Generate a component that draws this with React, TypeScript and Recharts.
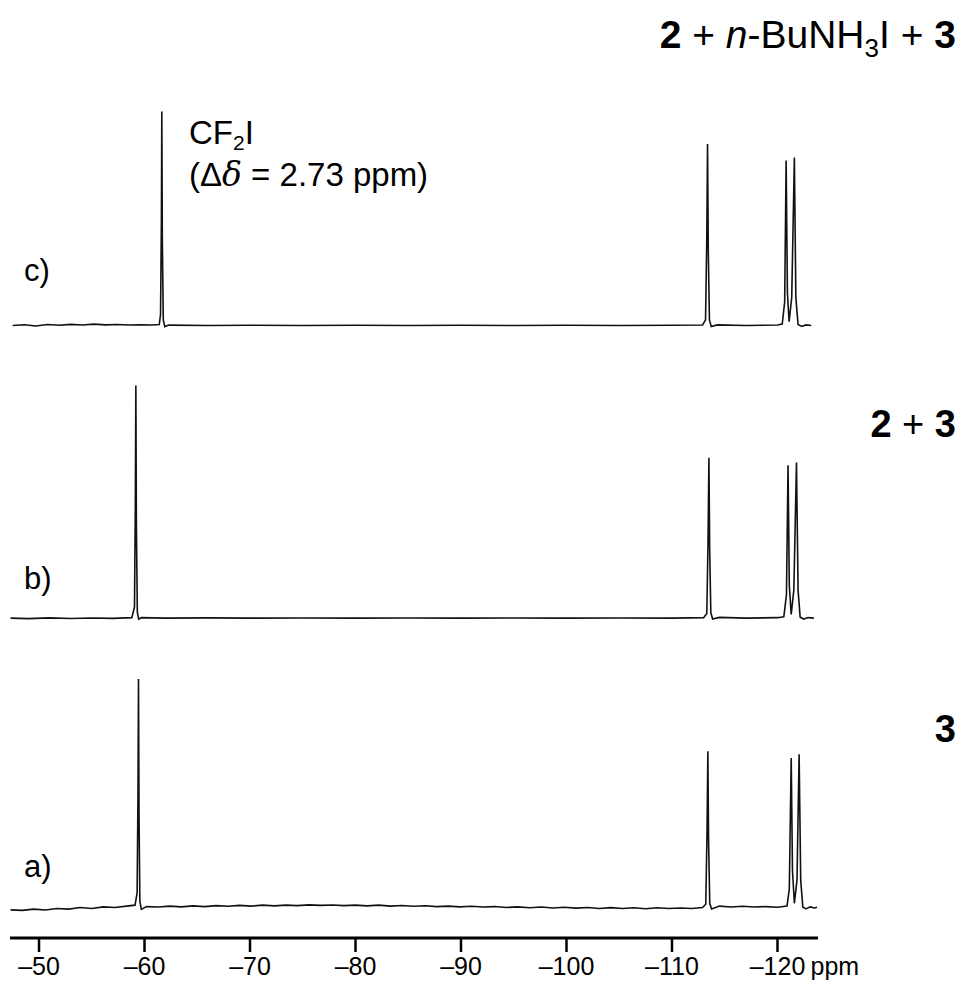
import React from "react";
import { LineChart, Line, XAxis, YAxis } from "recharts";

// chemical shift ticks (ppm)
const ppmTicks = [-50, -60, -70, -80, -90, -100, -110, -120];

// [ppm, intensity], intensity in plot units above its baseline
const traceA = [
  [-47.3, -0.2], [-48.4, -0.25], [-49.5, -0.12], [-50.6, -0.22], [-51.7, -0.05], [-52.8, -0.12],
  [-53.9, 0.05], [-55.0, -0.05], [-56.1, 0.12], [-57.2, 0.05], [-58.3, 0.2], [-59.1, 0.3],
  [-59.3, 1.6], [-59.38, 12.0], [-59.43, 24.4], [-59.48, 10.0], [-59.56, 0.7], [-59.7, -0.15],
  [-60.2, 0.15], [-61.3, 0.1], [-62.4, 0.2], [-63.5, 0.12], [-64.6, 0.22], [-65.7, 0.15],
  [-66.8, 0.25], [-67.9, 0.18], [-69.0, 0.28], [-70.1, 0.2], [-71.2, 0.3], [-72.3, 0.22],
  [-73.4, 0.3], [-74.5, 0.25], [-75.6, 0.33], [-76.7, 0.28], [-77.8, 0.32], [-78.9, 0.25],
  [-80.0, 0.3], [-81.1, 0.22], [-82.2, 0.3], [-83.3, 0.2], [-84.4, 0.26], [-85.5, 0.18],
  [-86.6, 0.24], [-87.7, 0.15], [-88.8, 0.2], [-89.9, 0.12], [-91.0, 0.18], [-92.1, 0.1],
  [-93.2, 0.15], [-94.3, 0.05], [-95.4, 0.12], [-96.5, 0.02], [-97.6, 0.1], [-98.7, 0.0],
  [-99.8, 0.08], [-100.9, -0.02], [-102.0, 0.05], [-103.1, -0.05], [-104.2, 0.04], [-105.3, -0.06],
  [-106.4, 0.03], [-107.5, -0.08], [-108.6, 0.02], [-109.7, -0.05], [-110.8, 0.0], [-111.9, -0.06],
  [-112.9, 0.05], [-113.2, 0.4], [-113.32, 8.0], [-113.4, 16.7], [-113.47, 7.0], [-113.58, 0.5],
  [-113.75, -0.1], [-114.5, 0.2], [-115.6, 0.1], [-116.7, 0.18], [-117.8, 0.1], [-118.9, 0.15],
  [-120.0, 0.08], [-120.9, 0.2], [-121.12, 2.0], [-121.3, 16.0], [-121.42, 4.0], [-121.6, 0.5],
  [-121.85, 3.0], [-122.05, 16.4], [-122.2, 3.0], [-122.4, 0.1], [-122.7, -0.1], [-123.1, 0.12],
  [-123.5, 0.0], [-123.75, 0.08],
];

const traceB = [
  [-47.3, 0.0], [-49.0, -0.05], [-51.0, 0.03], [-53.0, -0.04], [-55.0, 0.02], [-57.0, -0.03],
  [-58.8, 0.05], [-59.05, 1.2], [-59.13, 12.0], [-59.18, 24.8], [-59.23, 10.0], [-59.32, 0.6],
  [-59.45, -0.12], [-59.7, 0.05], [-62.0, 0.0], [-66.0, 0.03], [-70.0, 0.0], [-75.0, 0.02],
  [-80.0, 0.0], [-85.0, 0.02], [-90.0, 0.0], [-95.0, 0.02], [-100.0, 0.0], [-105.0, 0.02],
  [-110.0, 0.0], [-113.0, 0.05], [-113.3, 0.5], [-113.42, 8.5], [-113.5, 17.1], [-113.57, 7.5],
  [-113.68, 0.6], [-113.85, -0.1], [-114.5, 0.08], [-117.0, 0.0], [-120.0, 0.05], [-120.6, 0.15],
  [-120.85, 2.5], [-121.0, 16.3], [-121.12, 3.5], [-121.3, 0.4], [-121.55, 3.0], [-121.8, 16.6],
  [-121.95, 3.0], [-122.15, 0.1], [-122.5, -0.1], [-122.9, 0.06], [-123.45, 0.0],
];

const traceC = [
  [-47.5, 0.0], [-48.6, 0.08], [-49.7, -0.05], [-50.8, 0.1], [-51.9, 0.02], [-53.0, 0.12],
  [-54.1, 0.05], [-55.2, 0.14], [-56.3, 0.06], [-57.4, 0.1], [-58.5, 0.05], [-59.6, 0.08],
  [-60.7, 0.05], [-61.4, 0.1], [-61.52, 1.2], [-61.6, 11.0], [-61.64, 22.8], [-61.69, 9.0],
  [-61.78, 0.6], [-61.92, -0.12], [-62.3, 0.04], [-66.0, 0.0], [-70.0, 0.02], [-75.0, 0.0],
  [-80.0, 0.02], [-85.0, 0.0], [-90.0, 0.02], [-95.0, 0.0], [-100.0, 0.02], [-105.0, 0.0],
  [-110.0, 0.02], [-112.9, 0.05], [-113.18, 0.6], [-113.3, 9.5], [-113.37, 19.35], [-113.44, 8.0],
  [-113.55, 0.6], [-113.72, -0.12], [-114.3, 0.06], [-117.0, 0.0], [-120.0, 0.05], [-120.45, 0.15],
  [-120.68, 2.5], [-120.82, 17.6], [-120.94, 3.5], [-121.1, 0.4], [-121.35, 3.0], [-121.6, 17.9],
  [-121.74, 3.0], [-121.95, 0.1], [-122.3, -0.1], [-122.7, 0.06], [-123.2, 0.0],
];

// baseline of each spectrum in plot units (0..100 from axis to top)
const baselineA = 3.2;
const baselineB = 34.1;
const baselineC = 65.3;

const toRows = (pts: number[][], base: number) =>
  pts.map(([ppm, v]) => ({ ppm, y: base + v }));

const rowsA = toRows(traceA, baselineA);
const rowsB = toRows(traceB, baselineB);
const rowsC = toRows(traceC, baselineC);

const FONT = "Liberation Sans, Arial, Helvetica, sans-serif";

const PpmTick = (props: any) => {
  const { x, y, payload } = props;
  const v = payload.value as number;
  return (
    <g>
      <text x={x} y={y + 21} textAnchor="middle" fontFamily={FONT} fontSize={25} fill="#000">
        {"\u2013" + Math.abs(v)}
      </text>
      {v === -120 && (
        <text x={x + 33} y={y + 21} textAnchor="start" fontFamily={FONT} fontSize={25} fill="#000">
          ppm
        </text>
      )}
    </g>
  );
};

export default function App() {
  return (
    <div style={{ position: "absolute", left: 0, top: 0, width: 962, height: 985, background: "#fff" }}>
      <LineChart
        width={962}
        height={985}
        margin={{ top: 0, right: 144, left: 10, bottom: 0 }}
      >
        <XAxis
          type="number"
          dataKey="ppm"
          domain={[-123.84, -47.25]}
          reversed
          allowDataOverflow
          ticks={ppmTicks}
          height={47}
          axisLine={{ stroke: "#000", strokeWidth: 3 }}
          tickLine={{ stroke: "#000", strokeWidth: 2.5 }}
          tickSize={14}
          tick={<PpmTick />}
        />
        <YAxis type="number" domain={[0, 100]} hide allowDataOverflow />
        <Line data={rowsA} dataKey="y" type="linear" stroke="#111" strokeWidth={1.6} dot={false} isAnimationActive={false} />
        <Line data={rowsB} dataKey="y" type="linear" stroke="#111" strokeWidth={1.6} dot={false} isAnimationActive={false} />
        <Line data={rowsC} dataKey="y" type="linear" stroke="#111" strokeWidth={1.6} dot={false} isAnimationActive={false} />
      </LineChart>
      <svg width={962} height={985} style={{ position: "absolute", left: 0, top: 0, pointerEvents: "none" }}>
        <g fontFamily={FONT} fill="#000">
          <text x={24} y={281} fontSize={31}>c)</text>
          <text x={24} y={589} fontSize={31}>b)</text>
          <text x={24} y={877} fontSize={31}>a)</text>

          <text x={189} y={144} fontSize={33}>
            CF<tspan fontSize={21} dy={6}>2</tspan><tspan dy={-6}>I</tspan>
          </text>
          <text x={189} y={186} fontSize={33}>
            (Δ<tspan fontStyle="italic" fontFamily="DejaVu Serif, serif">δ</tspan> = 2.73 ppm)
          </text>

          <text x={956} y={48} fontSize={39} textAnchor="end">
            <tspan fontWeight="bold">2</tspan> + <tspan fontStyle="italic">n</tspan>-BuNH
            <tspan fontSize={26} dy={9}>3</tspan>
            <tspan dy={-9}>I + </tspan>
            <tspan fontWeight="bold">3</tspan>
          </text>
          <text x={956} y={437} fontSize={38} textAnchor="end" fontWeight="bold">
            2 <tspan fontWeight="normal">+</tspan> 3
          </text>
          <text x={956} y={742} fontSize={38} textAnchor="end" fontWeight="bold">3</text>
        </g>
      </svg>
    </div>
  );
}
